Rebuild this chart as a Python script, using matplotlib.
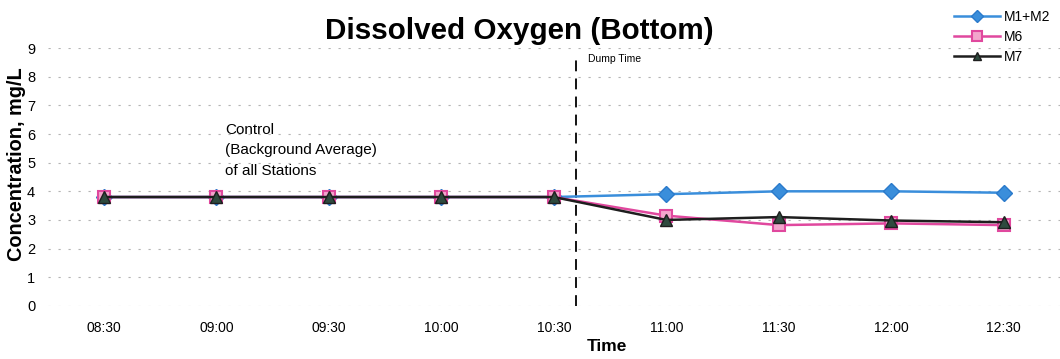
import matplotlib
matplotlib.use("Agg")
import matplotlib.pyplot as plt

plt.rcParams['font.family'] = ['Liberation Sans', 'DejaVu Sans']

times = ["08:30", "09:00", "09:30", "10:00", "10:30", "11:00", "11:30", "12:00", "12:30"]
m1_m2 = [3.8, 3.8, 3.8, 3.8, 3.8, 3.9, 4.0, 4.0, 3.95]
m6 = [3.8, 3.8, 3.8, 3.8, 3.8, 3.15, 2.82, 2.88, 2.82]
m7 = [3.8, 3.8, 3.8, 3.8, 3.8, 3.0, 3.1, 2.98, 2.92]
dump_position = 4.2  # just after 10:30
y_ticks = list(range(0, 10))

fig = plt.figure(figsize=(10.6, 3.59), dpi=100)
ax = fig.add_axes([0.045, 0.148, 0.955, 0.718])

x = list(range(len(times)))
ax.plot(x, m1_m2, color="#3A8EDB", lw=1.8, marker="D", ms=8,
        mfc="#3A8EDB", mec="#2A7ACB", label="M1+M2", zorder=3)
ax.plot(x, m6, color="#E0489E", lw=1.8, marker="s", ms=9,
        mfc="#F2A6CC", mec="#E0489E", mew=1.5, label="M6", zorder=4)
ax.plot(x, m7, color="#1E1E1E", lw=1.8, marker="^", ms=8,
        mfc="#2E4A3E", mec="#1E1E1E", label="M7", zorder=5)

ax.vlines(dump_position, 0, 8.6, colors="black", linestyles=(0, (6, 4)), lw=1.3, zorder=2)
ax.text(dump_position + 0.1, 8.45, "Dump Time", fontsize=7.5, va="bottom", ha="left")

ax.text(1.08, 6.4, "Control\n(Background Average)\nof all Stations",
        fontsize=11, va="top", ha="left", linespacing=1.6)

ax.set_xlim(-0.5, 8.5)
ax.set_ylim(0, 9)
ax.set_xticks(x)
ax.set_xticklabels(times, fontsize=10)
ax.set_yticks(y_ticks)
ax.set_yticklabels([str(v) for v in y_ticks], fontsize=10.5)
ax.tick_params(length=0, axis="x", pad=11)
ax.tick_params(length=0, axis="y", pad=9)
for s in ax.spines.values():
    s.set_visible(False)
ax.yaxis.grid(True, color="#b4b4b4", lw=0.8, linestyle=(0, (2, 7)))
ax.set_axisbelow(True)

ax.set_ylabel("Concentration, mg/L", fontsize=14.3, fontweight="bold")
ax.yaxis.set_label_coords(-0.021, 0.55)
ax.set_xlabel("Time", fontsize=12.5, fontweight="bold")
ax.xaxis.set_label_coords(0.552, -0.13)
fig.text(0.49, 0.915, "Dissolved Oxygen (Bottom)", fontsize=21.3, fontweight="bold",
         ha="center", va="center")

leg = fig.legend(loc="upper right", bbox_to_anchor=(1.0, 1.0), frameon=False,
                 fontsize=10, handlelength=3.3, handletextpad=0.3, labelspacing=0.45,
                 borderaxespad=0.3, markerscale=0.8)

fig.savefig("out.png", dpi=100)
